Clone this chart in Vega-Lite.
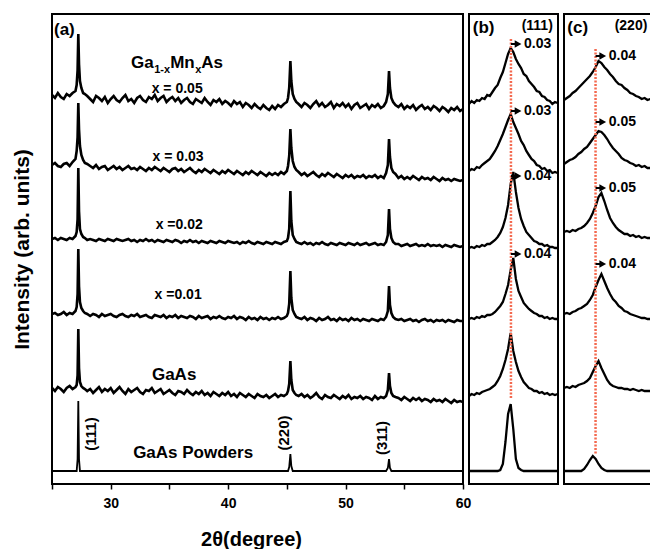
{
  "$schema": "https://vega.github.io/schema/vega-lite/v6.json",
  "background": "white",
  "padding": {"left": 10, "top": 13, "right": 0, "bottom": 0},
  "bounds": "flush",
  "spacing": 6,
  "config": {
    "view": {"stroke": "black", "strokeWidth": 2},
    "axis": {"grid": false, "labelFont": "Liberation Sans", "titleFont": "Liberation Sans", "labelColor": "black", "titleColor": "black", "tickColor": "black"},
    "text": {"font": "Liberation Sans", "fontWeight": "bold", "color": "black"}
  },
  "datasets": {
    "a": [
      {"x":25,"A":389,"B":319,"C":245,"D":170,"E":96,"F":13},
      {"x":25.25,"A":386,"B":321,"C":246,"D":171,"E":93,"F":13},
      {"x":25.5,"A":391,"B":318,"C":244,"D":169,"E":97,"F":13},
      {"x":25.75,"A":387,"B":317,"C":246,"D":170,"E":95,"F":13},
      {"x":26,"A":385,"B":320,"C":245,"D":172,"E":92,"F":13},
      {"x":26.25,"A":390,"B":321,"C":244,"D":169,"E":96,"F":13},
      {"x":26.5,"A":388,"B":318,"C":246,"D":171,"E":98,"F":13},
      {"x":26.75,"A":391,"B":322,"C":245,"D":170,"E":95,"F":13},
      {"x":27,"A":393,"B":325,"C":248,"D":173,"E":97,"F":13},
      {"x":27.1,"A":399,"B":333,"C":252,"D":177,"E":99,"F":13},
      {"x":27.18,"A":414,"B":347,"C":265,"D":190,"E":109,"F":25},
      {"x":27.24,"A":450,"B":381,"C":316,"D":235,"E":155,"F":83},
      {"x":27.3,"A":420,"B":355,"C":273,"D":198,"E":116,"F":25},
      {"x":27.38,"A":403,"B":338,"C":255,"D":182,"E":102,"F":13},
      {"x":27.5,"A":396,"B":329,"C":250,"D":176,"E":98,"F":13},
      {"x":27.65,"A":391,"B":324,"C":247,"D":173,"E":96,"F":13},
      {"x":27.8,"A":390,"B":321,"C":246,"D":171,"E":95,"F":13},
      {"x":28,"A":388,"B":320,"C":244,"D":170,"E":93,"F":13},
      {"x":28.25,"A":385,"B":318,"C":245,"D":168,"E":95,"F":13},
      {"x":28.5,"A":382,"B":316,"C":244,"D":170,"E":91,"F":13},
      {"x":28.75,"A":388,"B":319,"C":243,"D":169,"E":94,"F":13},
      {"x":29,"A":386,"B":315,"C":245,"D":167,"E":97,"F":13},
      {"x":29.25,"A":383,"B":317,"C":244,"D":170,"E":92,"F":13},
      {"x":29.5,"A":387,"B":318,"C":243,"D":168,"E":95,"F":13},
      {"x":29.75,"A":381,"B":314,"C":245,"D":169,"E":93,"F":13},
      {"x":30,"A":385,"B":316,"C":244,"D":170,"E":96,"F":13},
      {"x":30.25,"A":388,"B":318,"C":243,"D":168,"E":91,"F":13},
      {"x":30.5,"A":384,"B":315,"C":245,"D":167,"E":94,"F":13},
      {"x":30.75,"A":382,"B":317,"C":244,"D":169,"E":97,"F":13},
      {"x":31,"A":386,"B":314,"C":243,"D":170,"E":93,"F":13},
      {"x":31.25,"A":389,"B":316,"C":244,"D":168,"E":90,"F":13},
      {"x":31.5,"A":383,"B":318,"C":245,"D":167,"E":95,"F":13},
      {"x":31.75,"A":385,"B":315,"C":243,"D":169,"E":92,"F":13},
      {"x":32,"A":381,"B":316,"C":244,"D":168,"E":94,"F":13},
      {"x":32.25,"A":386,"B":314,"C":242,"D":170,"E":96,"F":13},
      {"x":32.5,"A":388,"B":317,"C":244,"D":167,"E":92,"F":13},
      {"x":32.75,"A":384,"B":315,"C":243,"D":168,"E":90,"F":13},
      {"x":33,"A":382,"B":313,"C":245,"D":169,"E":94,"F":13},
      {"x":33.25,"A":387,"B":316,"C":243,"D":167,"E":93,"F":13},
      {"x":33.5,"A":385,"B":314,"C":244,"D":166,"E":96,"F":13},
      {"x":33.75,"A":389,"B":317,"C":242,"D":169,"E":91,"F":13},
      {"x":34,"A":383,"B":315,"C":244,"D":168,"E":93,"F":13},
      {"x":34.25,"A":386,"B":313,"C":243,"D":167,"E":95,"F":13},
      {"x":34.5,"A":388,"B":316,"C":242,"D":169,"E":90,"F":13},
      {"x":34.75,"A":382,"B":314,"C":244,"D":166,"E":92,"F":13},
      {"x":35,"A":385,"B":312,"C":243,"D":168,"E":94,"F":13},
      {"x":35.25,"A":387,"B":315,"C":242,"D":167,"E":91,"F":13},
      {"x":35.5,"A":383,"B":316,"C":244,"D":169,"E":89,"F":13},
      {"x":35.75,"A":386,"B":313,"C":243,"D":166,"E":93,"F":13},
      {"x":36,"A":381,"B":315,"C":241,"D":168,"E":92,"F":13},
      {"x":36.25,"A":384,"B":312,"C":243,"D":167,"E":90,"F":13},
      {"x":36.5,"A":386,"B":314,"C":242,"D":166,"E":94,"F":13},
      {"x":36.75,"A":382,"B":316,"C":244,"D":168,"E":91,"F":13},
      {"x":37,"A":380,"B":313,"C":242,"D":167,"E":89,"F":13},
      {"x":37.25,"A":385,"B":311,"C":243,"D":165,"E":92,"F":13},
      {"x":37.5,"A":383,"B":314,"C":241,"D":168,"E":90,"F":13},
      {"x":37.75,"A":381,"B":312,"C":243,"D":166,"E":93,"F":13},
      {"x":38,"A":386,"B":315,"C":242,"D":167,"E":89,"F":13},
      {"x":38.25,"A":382,"B":313,"C":241,"D":168,"E":91,"F":13},
      {"x":38.5,"A":379,"B":311,"C":243,"D":165,"E":88,"F":13},
      {"x":38.75,"A":384,"B":314,"C":242,"D":167,"E":92,"F":13},
      {"x":39,"A":382,"B":312,"C":241,"D":166,"E":90,"F":13},
      {"x":39.25,"A":385,"B":310,"C":243,"D":168,"E":88,"F":13},
      {"x":39.5,"A":380,"B":313,"C":242,"D":166,"E":91,"F":13},
      {"x":39.75,"A":383,"B":311,"C":241,"D":165,"E":89,"F":13},
      {"x":40,"A":381,"B":314,"C":243,"D":167,"E":92,"F":13},
      {"x":40.25,"A":378,"B":312,"C":242,"D":166,"E":88,"F":13},
      {"x":40.5,"A":383,"B":310,"C":241,"D":168,"E":90,"F":13},
      {"x":40.75,"A":380,"B":313,"C":242,"D":165,"E":87,"F":13},
      {"x":41,"A":382,"B":311,"C":240,"D":167,"E":91,"F":13},
      {"x":41.25,"A":377,"B":309,"C":242,"D":166,"E":89,"F":13},
      {"x":41.5,"A":381,"B":312,"C":241,"D":164,"E":87,"F":13},
      {"x":41.75,"A":379,"B":310,"C":243,"D":167,"E":90,"F":13},
      {"x":42,"A":376,"B":313,"C":241,"D":165,"E":88,"F":13},
      {"x":42.25,"A":380,"B":311,"C":240,"D":166,"E":86,"F":13},
      {"x":42.5,"A":377,"B":309,"C":242,"D":164,"E":90,"F":13},
      {"x":42.75,"A":375,"B":312,"C":241,"D":167,"E":88,"F":13},
      {"x":43,"A":379,"B":310,"C":240,"D":165,"E":87,"F":13},
      {"x":43.25,"A":376,"B":308,"C":242,"D":166,"E":89,"F":13},
      {"x":43.5,"A":374,"B":311,"C":241,"D":164,"E":86,"F":13},
      {"x":43.75,"A":378,"B":309,"C":240,"D":166,"E":88,"F":13},
      {"x":44,"A":375,"B":311,"C":242,"D":165,"E":90,"F":13},
      {"x":44.25,"A":379,"B":309,"C":241,"D":167,"E":87,"F":13},
      {"x":44.5,"A":377,"B":312,"C":240,"D":165,"E":89,"F":13},
      {"x":44.75,"A":380,"B":310,"C":242,"D":166,"E":88,"F":13},
      {"x":45,"A":382,"B":313,"C":243,"D":168,"E":90,"F":13},
      {"x":45.1,"A":386,"B":318,"C":246,"D":171,"E":93,"F":13},
      {"x":45.2,"A":396,"B":328,"C":255,"D":180,"E":100,"F":17},
      {"x":45.3,"A":423,"B":355,"C":293,"D":213,"E":123,"F":30},
      {"x":45.38,"A":403,"B":336,"C":263,"D":186,"E":104,"F":18},
      {"x":45.5,"A":390,"B":323,"C":249,"D":174,"E":94,"F":13},
      {"x":45.65,"A":385,"B":317,"C":245,"D":170,"E":91,"F":13},
      {"x":45.8,"A":382,"B":314,"C":242,"D":167,"E":89,"F":13},
      {"x":46,"A":380,"B":312,"C":241,"D":166,"E":88,"F":13},
      {"x":46.25,"A":377,"B":309,"C":240,"D":165,"E":90,"F":13},
      {"x":46.5,"A":381,"B":311,"C":242,"D":167,"E":87,"F":13},
      {"x":46.75,"A":379,"B":308,"C":240,"D":164,"E":89,"F":13},
      {"x":47,"A":376,"B":310,"C":241,"D":166,"E":86,"F":13},
      {"x":47.25,"A":380,"B":312,"C":239,"D":165,"E":88,"F":13},
      {"x":47.5,"A":383,"B":309,"C":241,"D":163,"E":91,"F":13},
      {"x":47.75,"A":378,"B":307,"C":240,"D":166,"E":87,"F":13},
      {"x":48,"A":381,"B":310,"C":242,"D":164,"E":85,"F":13},
      {"x":48.25,"A":377,"B":308,"C":240,"D":165,"E":89,"F":13},
      {"x":48.5,"A":379,"B":311,"C":239,"D":167,"E":87,"F":13},
      {"x":48.75,"A":382,"B":309,"C":241,"D":164,"E":86,"F":13},
      {"x":49,"A":376,"B":307,"C":240,"D":165,"E":89,"F":13},
      {"x":49.25,"A":380,"B":310,"C":239,"D":163,"E":87,"F":13},
      {"x":49.5,"A":378,"B":308,"C":241,"D":166,"E":85,"F":13},
      {"x":49.75,"A":381,"B":306,"C":240,"D":164,"E":88,"F":13},
      {"x":50,"A":377,"B":309,"C":239,"D":165,"E":86,"F":13},
      {"x":50.25,"A":380,"B":307,"C":241,"D":163,"E":89,"F":13},
      {"x":50.5,"A":375,"B":309,"C":240,"D":166,"E":85,"F":13},
      {"x":50.75,"A":379,"B":306,"C":239,"D":164,"E":87,"F":13},
      {"x":51,"A":381,"B":308,"C":241,"D":165,"E":86,"F":13},
      {"x":51.25,"A":376,"B":307,"C":239,"D":163,"E":88,"F":13},
      {"x":51.5,"A":378,"B":309,"C":240,"D":165,"E":85,"F":13},
      {"x":51.75,"A":380,"B":306,"C":241,"D":164,"E":87,"F":13},
      {"x":52,"A":375,"B":308,"C":239,"D":163,"E":86,"F":13},
      {"x":52.25,"A":379,"B":307,"C":240,"D":165,"E":84,"F":13},
      {"x":52.5,"A":377,"B":309,"C":241,"D":164,"E":88,"F":13},
      {"x":52.75,"A":380,"B":306,"C":239,"D":163,"E":85,"F":13},
      {"x":53,"A":376,"B":308,"C":240,"D":165,"E":87,"F":13},
      {"x":53.25,"A":378,"B":306,"C":239,"D":164,"E":86,"F":13},
      {"x":53.45,"A":382,"B":311,"C":242,"D":167,"E":88,"F":13},
      {"x":53.6,"A":390,"B":319,"C":249,"D":173,"E":94,"F":16},
      {"x":53.7,"A":413,"B":345,"C":275,"D":198,"E":111,"F":25},
      {"x":53.78,"A":396,"B":327,"C":255,"D":179,"E":98,"F":16},
      {"x":53.9,"A":386,"B":316,"C":246,"D":171,"E":91,"F":13},
      {"x":54.05,"A":382,"B":312,"C":242,"D":167,"E":88,"F":13},
      {"x":54.25,"A":379,"B":310,"C":240,"D":165,"E":87,"F":13},
      {"x":54.5,"A":377,"B":306,"C":240,"D":164,"E":86,"F":13},
      {"x":54.75,"A":380,"B":308,"C":238,"D":165,"E":84,"F":13},
      {"x":55,"A":375,"B":305,"C":239,"D":163,"E":87,"F":13},
      {"x":55.25,"A":378,"B":307,"C":240,"D":164,"E":85,"F":13},
      {"x":55.5,"A":376,"B":305,"C":238,"D":165,"E":83,"F":13},
      {"x":55.75,"A":379,"B":308,"C":239,"D":163,"E":86,"F":13},
      {"x":56,"A":374,"B":306,"C":240,"D":164,"E":84,"F":13},
      {"x":56.25,"A":377,"B":304,"C":238,"D":162,"E":86,"F":13},
      {"x":56.5,"A":379,"B":307,"C":239,"D":164,"E":83,"F":13},
      {"x":56.75,"A":375,"B":305,"C":238,"D":165,"E":85,"F":13},
      {"x":57,"A":377,"B":306,"C":240,"D":163,"E":84,"F":13},
      {"x":57.25,"A":374,"B":304,"C":238,"D":164,"E":82,"F":13},
      {"x":57.5,"A":378,"B":307,"C":239,"D":162,"E":85,"F":13},
      {"x":57.75,"A":376,"B":305,"C":238,"D":164,"E":83,"F":13},
      {"x":58,"A":373,"B":303,"C":239,"D":163,"E":84,"F":13},
      {"x":58.25,"A":377,"B":306,"C":237,"D":164,"E":82,"F":13},
      {"x":58.5,"A":375,"B":304,"C":239,"D":162,"E":85,"F":13},
      {"x":58.75,"A":372,"B":305,"C":238,"D":164,"E":83,"F":13},
      {"x":59,"A":376,"B":303,"C":237,"D":163,"E":81,"F":13},
      {"x":59.25,"A":374,"B":305,"C":239,"D":162,"E":84,"F":13},
      {"x":59.5,"A":377,"B":304,"C":238,"D":164,"E":82,"F":13},
      {"x":59.75,"A":373,"B":303,"C":237,"D":163,"E":83,"F":13},
      {"x":60,"A":375,"B":304,"C":238,"D":163,"E":82,"F":13}
    ],
    "b": [
      {"x":26.78,"A":380,"B":313,"C":236,"D":165,"E":88,"F":13},
      {"x":26.81,"A":383,"B":315,"C":237,"D":166,"E":90,"F":13},
      {"x":26.84,"A":381,"B":314,"C":236,"D":165,"E":89,"F":13},
      {"x":26.87,"A":384,"B":317,"C":238,"D":167,"E":91,"F":13},
      {"x":26.9,"A":383,"B":316,"C":237,"D":166,"E":90,"F":13},
      {"x":26.93,"A":386,"B":319,"C":239,"D":168,"E":92,"F":13},
      {"x":26.96,"A":385,"B":321,"C":238,"D":167,"E":93,"F":13},
      {"x":26.99,"A":389,"B":323,"C":240,"D":169,"E":94,"F":13},
      {"x":27.02,"A":388,"B":325,"C":240,"D":169,"E":95,"F":13},
      {"x":27.05,"A":392,"B":329,"C":242,"D":170,"E":97,"F":13},
      {"x":27.08,"A":396,"B":333,"C":244,"D":172,"E":99,"F":13},
      {"x":27.11,"A":399,"B":338,"C":247,"D":175,"E":103,"F":13},
      {"x":27.14,"A":406,"B":344,"C":251,"D":178,"E":108,"F":14},
      {"x":27.17,"A":412,"B":350,"C":257,"D":182,"E":115,"F":20},
      {"x":27.2,"A":421,"B":357,"C":266,"D":190,"E":124,"F":42},
      {"x":27.23,"A":430,"B":364,"C":279,"D":199,"E":135,"F":70},
      {"x":27.26,"A":436,"B":370,"C":300,"D":214,"E":151,"F":80},
      {"x":27.29,"A":432,"B":362,"C":312,"D":226,"E":133,"F":55},
      {"x":27.32,"A":425,"B":356,"C":292,"D":205,"E":122,"F":25},
      {"x":27.35,"A":420,"B":350,"C":276,"D":193,"E":113,"F":16},
      {"x":27.38,"A":416,"B":343,"C":265,"D":187,"E":107,"F":14},
      {"x":27.41,"A":410,"B":339,"C":258,"D":181,"E":102,"F":13},
      {"x":27.44,"A":408,"B":333,"C":252,"D":178,"E":99,"F":13},
      {"x":27.47,"A":403,"B":329,"C":249,"D":175,"E":96,"F":13},
      {"x":27.5,"A":400,"B":325,"C":246,"D":173,"E":95,"F":13},
      {"x":27.53,"A":397,"B":323,"C":243,"D":171,"E":93,"F":13},
      {"x":27.56,"A":393,"B":319,"C":242,"D":170,"E":93,"F":13},
      {"x":27.59,"A":392,"B":318,"C":240,"D":168,"E":91,"F":13},
      {"x":27.62,"A":388,"B":315,"C":240,"D":168,"E":92,"F":13},
      {"x":27.65,"A":387,"B":316,"C":238,"D":166,"E":90,"F":13},
      {"x":27.68,"A":384,"B":313,"C":239,"D":167,"E":91,"F":13},
      {"x":27.71,"A":383,"B":314,"C":237,"D":165,"E":89,"F":13},
      {"x":27.74,"A":380,"B":311,"C":237,"D":166,"E":90,"F":13},
      {"x":27.77,"A":382,"B":312,"C":236,"D":165,"E":89,"F":13},
      {"x":27.8,"A":381,"B":311,"C":236,"D":165,"E":90,"F":13}
    ],
    "c": [
      {"x":45.0,"A":384,"B":320,"C":252,"D":170,"E":96,"F":13},
      {"x":45.026,"A":386,"B":322,"C":253,"D":171,"E":97,"F":13},
      {"x":45.052,"A":388,"B":324,"C":252,"D":170,"E":96,"F":13},
      {"x":45.078,"A":391,"B":325,"C":254,"D":172,"E":98,"F":13},
      {"x":45.104,"A":393,"B":327,"C":253,"D":173,"E":97,"F":13},
      {"x":45.13,"A":396,"B":330,"C":255,"D":175,"E":99,"F":13},
      {"x":45.156,"A":399,"B":332,"C":256,"D":176,"E":100,"F":13},
      {"x":45.182,"A":402,"B":335,"C":258,"D":178,"E":101,"F":15},
      {"x":45.208,"A":405,"B":337,"C":261,"D":180,"E":103,"F":19},
      {"x":45.234,"A":408,"B":341,"C":265,"D":184,"E":106,"F":24},
      {"x":45.26,"A":412,"B":345,"C":271,"D":189,"E":112,"F":28},
      {"x":45.286,"A":417,"B":349,"C":278,"D":197,"E":118,"F":25},
      {"x":45.312,"A":423,"B":353,"C":287,"D":204,"E":123,"F":20},
      {"x":45.338,"A":421,"B":352,"C":291,"D":210,"E":116,"F":16},
      {"x":45.364,"A":417,"B":349,"C":283,"D":203,"E":110,"F":14},
      {"x":45.39,"A":414,"B":345,"C":274,"D":196,"E":104,"F":13},
      {"x":45.416,"A":410,"B":340,"C":266,"D":190,"E":100,"F":13},
      {"x":45.442,"A":407,"B":336,"C":261,"D":185,"E":98,"F":13},
      {"x":45.468,"A":403,"B":333,"C":257,"D":182,"E":97,"F":13},
      {"x":45.494,"A":400,"B":330,"C":254,"D":178,"E":96,"F":13},
      {"x":45.52,"A":399,"B":326,"C":252,"D":176,"E":96,"F":13},
      {"x":45.546,"A":396,"B":324,"C":250,"D":173,"E":95,"F":13},
      {"x":45.572,"A":394,"B":323,"C":250,"D":172,"E":95,"F":13},
      {"x":45.598,"A":391,"B":321,"C":248,"D":170,"E":94,"F":13},
      {"x":45.624,"A":390,"B":320,"C":249,"D":169,"E":95,"F":13},
      {"x":45.65,"A":388,"B":318,"C":247,"D":168,"E":94,"F":13},
      {"x":45.676,"A":387,"B":319,"C":248,"D":167,"E":93,"F":13},
      {"x":45.702,"A":385,"B":317,"C":246,"D":166,"E":94,"F":13},
      {"x":45.728,"A":386,"B":318,"C":247,"D":166,"E":93,"F":13},
      {"x":45.754,"A":384,"B":316,"C":246,"D":165,"E":93,"F":13},
      {"x":45.78,"A":385,"B":316,"C":246,"D":165,"E":93,"F":13}
    ],
    "labBig": [
      {"x":25.17,"y":449,"t":"(a)"},
      {"x":31.735,"y":416,"t":"Ga"},
      {"x":35.06,"y":416,"t":"Mn"},
      {"x":37.7,"y":416,"t":"As"}
    ],
    "labSub": [
      {"x":33.7,"y":411,"t":"1-x"},
      {"x":37.19,"y":411,"t":"x"}
    ],
    "labX": [
      {"x":35.66,"y":391,"t":"x = 0.05"},
      {"x":35.74,"y":323,"t":"x = 0.03"},
      {"x":35.83,"y":255,"t":"x =0.02"},
      {"x":35.74,"y":185,"t":"x =0.01"}
    ],
    "labName": [
      {"x":35.4,"y":104,"t":"GaAs"},
      {"x":37.02,"y":26,"t":"GaAs Powders"}
    ],
    "labHkl": [
      {"x":28.28,"y":50,"t":"(111)"},
      {"x":44.78,"y":51,"t":"(220)"},
      {"x":53.13,"y":46,"t":"(311)"}
    ],
    "arrB": [
      {"x":27.263,"x2":27.345,"y":440,"t":"0.03"},
      {"x":27.263,"x2":27.345,"y":373,"t":"0.03"},
      {"x":27.263,"x2":27.345,"y":308,"t":"0.04"},
      {"x":27.263,"x2":27.345,"y":230,"t":"0.04"}
    ],
    "arrC": [
      {"x":45.285,"x2":45.35,"y":428,"t":"0.04"},
      {"x":45.285,"x2":45.35,"y":362,"t":"0.05"},
      {"x":45.285,"x2":45.35,"y":296,"t":"0.05"},
      {"x":45.285,"x2":45.35,"y":220,"t":"0.04"}
    ]
  },
  "hconcat": [
    {
      "width": 411,
      "height": 470,
      "encoding": {
        "x": {"field": "x", "type": "quantitative", "scale": {"domain": [25, 60], "nice": false, "zero": false},
          "axis": {"values": [25, 30, 35, 40, 45, 50, 55, 60], "labelExpr": "datum.value % 10 === 0 ? datum.label : ''", "domain": false, "tickSize": 5, "tickWidth": 1.5, "labelFontSize": 14, "labelFontWeight": "bold", "labelPadding": 7, "labelFlush": false, "labelOverlap": false, "title": "2θ(degree)", "titleFontSize": 20, "titleFontWeight": "bold", "titlePadding": 19, "titleX": 199}},
        "y": {"field": "y", "type": "quantitative", "scale": {"domain": [0, 470], "nice": false, "zero": false},
          "axis": {"title": "Intensity (arb. units)", "labels": false, "ticks": false, "domain": false, "titleFontSize": 21, "titleFontWeight": "bold", "titlePadding": 20}}
      },
      "layer": [
        {"data": {"name": "a"}, "transform": [{"fold": ["A", "B", "C", "D", "E"], "as": ["s", "y"]}],
          "mark": {"type": "line", "color": "black", "strokeWidth": 2.6, "clip": true},
          "encoding": {"detail": {"field": "s"}}},
        {"data": {"name": "a"}, "transform": [{"fold": ["F"], "as": ["s", "y"]}],
          "mark": {"type": "line", "color": "black", "strokeWidth": 1.8, "clip": true},
          "encoding": {"detail": {"field": "s"}}},
        {"data": {"name": "labBig"}, "mark": {"type": "text", "fontSize": 17, "align": "left", "baseline": "alphabetic"}, "encoding": {"text": {"field": "t"}}},
        {"data": {"name": "labSub"}, "mark": {"type": "text", "fontSize": 11, "align": "left", "baseline": "alphabetic"}, "encoding": {"text": {"field": "t"}}},
        {"data": {"name": "labX"}, "mark": {"type": "text", "fontSize": 14, "align": "center", "baseline": "alphabetic"}, "encoding": {"text": {"field": "t"}}},
        {"data": {"name": "labName"}, "mark": {"type": "text", "fontSize": 17, "align": "center", "baseline": "alphabetic"}, "encoding": {"text": {"field": "t"}}},
        {"data": {"name": "labHkl"}, "mark": {"type": "text", "fontSize": 15, "align": "center", "baseline": "middle", "angle": 270}, "encoding": {"text": {"field": "t"}}}
      ]
    },
    {
      "width": 89,
      "height": 470,
      "encoding": {
        "x": {"field": "x", "type": "quantitative", "scale": {"domain": [26.78, 27.805], "nice": false, "zero": false},
          "axis": {"values": [27, 27.5], "labelExpr": "datum.value === 27 ? '27' : ''", "domain": false, "tickSize": 5, "tickWidth": 1.5, "labelFontSize": 14, "labelFontWeight": "bold", "labelPadding": 7, "labelFlush": false, "labelOverlap": false, "title": null}},
        "y": {"field": "y", "type": "quantitative", "scale": {"domain": [0, 470], "nice": false, "zero": false}, "axis": null}
      },
      "layer": [
        {"data": {"name": "b"}, "transform": [{"fold": ["A", "B", "C", "D", "E", "F"], "as": ["s", "y"]}],
          "mark": {"type": "line", "color": "black", "strokeWidth": 2.3, "clip": true},
          "encoding": {"detail": {"field": "s"}}},
        {"data": {"values": [{"x": 27.263, "y": 445, "y2": 85}]}, "mark": {"type": "rule", "color": "#f4694f", "strokeWidth": 2.5, "strokeDash": [2, 1.5]}, "encoding": {"y2": {"field": "y2"}}},
        {"data": {"name": "arrB"}, "mark": {"type": "rule", "color": "black", "strokeWidth": 2}, "encoding": {"x2": {"field": "x2"}}},
        {"data": {"name": "arrB"}, "mark": {"type": "point", "shape": "triangle-right", "filled": true, "color": "black", "opacity": 1, "size": 60},
          "encoding": {"x": {"field": "x2", "type": "quantitative", "scale": {"domain": [26.78, 27.805], "nice": false, "zero": false}, "axis": null}}},
        {"data": {"name": "arrB"}, "mark": {"type": "text", "fontSize": 14, "align": "left", "baseline": "middle", "dx": 6},
          "encoding": {"x": {"field": "x2", "type": "quantitative", "scale": {"domain": [26.78, 27.805], "nice": false, "zero": false}, "axis": null}, "text": {"field": "t"}}},
        {"data": {"values": [{"x": 26.824, "y": 451, "t": "(b)"}]}, "mark": {"type": "text", "fontSize": 17, "align": "left", "baseline": "alphabetic"}, "encoding": {"text": {"field": "t"}}},
        {"data": {"values": [{"x": 27.745, "y": 454, "t": "(111)"}]}, "mark": {"type": "text", "fontSize": 14, "align": "right", "baseline": "alphabetic"}, "encoding": {"text": {"field": "t"}}}
      ]
    },
    {
      "width": 88,
      "height": 470,
      "encoding": {
        "x": {"field": "x", "type": "quantitative", "scale": {"domain": [45, 45.795], "nice": false, "zero": false},
          "axis": {"values": [45, 45.5], "labelExpr": "datum.value === 45 ? '45' : ''", "domain": false, "tickSize": 5, "tickWidth": 1.5, "labelFontSize": 14, "labelFontWeight": "bold", "labelPadding": 7, "labelFlush": false, "labelOverlap": false, "title": null}},
        "y": {"field": "y", "type": "quantitative", "scale": {"domain": [0, 470], "nice": false, "zero": false}, "axis": null}
      },
      "layer": [
        {"data": {"name": "c"}, "transform": [{"fold": ["A", "B", "C", "D", "E", "F"], "as": ["s", "y"]}],
          "mark": {"type": "line", "color": "black", "strokeWidth": 2.3, "clip": true},
          "encoding": {"detail": {"field": "s"}}},
        {"data": {"values": [{"x": 45.285, "y": 435, "y2": 30}]}, "mark": {"type": "rule", "color": "#f4694f", "strokeWidth": 2.5, "strokeDash": [2, 1.5]}, "encoding": {"y2": {"field": "y2"}}},
        {"data": {"name": "arrC"}, "mark": {"type": "rule", "color": "black", "strokeWidth": 2}, "encoding": {"x2": {"field": "x2"}}},
        {"data": {"name": "arrC"}, "mark": {"type": "point", "shape": "triangle-right", "filled": true, "color": "black", "opacity": 1, "size": 60},
          "encoding": {"x": {"field": "x2", "type": "quantitative", "scale": {"domain": [45, 45.795], "nice": false, "zero": false}, "axis": null}}},
        {"data": {"name": "arrC"}, "mark": {"type": "text", "fontSize": 14, "align": "left", "baseline": "middle", "dx": 6},
          "encoding": {"x": {"field": "x2", "type": "quantitative", "scale": {"domain": [45, 45.795], "nice": false, "zero": false}, "axis": null}, "text": {"field": "t"}}},
        {"data": {"values": [{"x": 45.03, "y": 451, "t": "(c)"}]}, "mark": {"type": "text", "fontSize": 17, "align": "left", "baseline": "alphabetic"}, "encoding": {"text": {"field": "t"}}},
        {"data": {"values": [{"x": 45.753, "y": 454, "t": "(220)"}]}, "mark": {"type": "text", "fontSize": 14, "align": "right", "baseline": "alphabetic"}, "encoding": {"text": {"field": "t"}}}
      ]
    }
  ]
}
